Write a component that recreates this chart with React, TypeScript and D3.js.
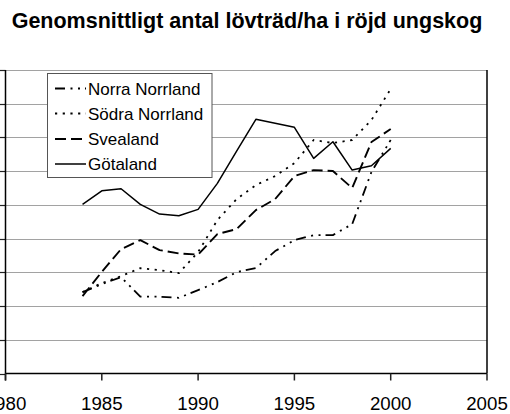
import React from "react";
import * as d3 from "d3";

const years = [1984, 1985, 1986, 1987, 1988, 1989, 1990, 1991, 1992, 1993, 1994, 1995, 1996, 1997, 1998, 1999, 2000];
const norraNorrland = [1206, 1325, 1429, 1139, 1139, 1122, 1236, 1355, 1503, 1562, 1815, 1978, 2052, 2052, 2215, 2987, 3462];
const sodraNorrland = [1206, 1340, 1444, 1562, 1533, 1488, 1800, 2275, 2586, 2794, 2927, 3120, 3462, 3417, 3462, 3758, 4218];
const svealand = [1147, 1507, 1844, 1978, 1829, 1780, 1763, 2067, 2141, 2423, 2586, 2927, 3016, 3002, 2749, 3432, 3625];
const gotaland = [2507, 2709, 2739, 2507, 2364, 2338, 2433, 2819, 3298, 3769, 3709, 3650, 3190, 3436, 3016, 3080, 3338];
const xTicks = [1980, 1985, 1990, 1995, 2000, 2005];
const yTicks = [0, 500, 1000, 1500, 2000, 2500, 3000, 3500, 4000, 4500];
const seriesNames = ["Norra Norrland", "Södra Norrland", "Svealand", "Götaland"];

const title = "Genomsnittligt antal lövträd/ha i röjd ungskog";
const FONT = "'Liberation Sans', Arial, Helvetica, sans-serif";

export default function App() {
  const W = 510, H = 414;
  const x = d3.scaleLinear().domain([1980, 2005]).range([5.5, 487]);
  const y = d3.scaleLinear().domain([0, 4500]).range([373.5, 70]);

  const series = [
    { name: seriesNames[0], values: norraNorrland, dash: "10 5.5 2 5.5 2 5", width: 1.8 },
    { name: seriesNames[1], values: sodraNorrland, dash: "2.2 5.5", width: 1.8 },
    { name: seriesNames[2], values: svealand, dash: "11 5", width: 1.9 },
    { name: seriesNames[3], values: gotaland, dash: "none", width: 1.5 },
  ];

  const line = d3
    .line<number>()
    .x((_, i) => x(years[i]))
    .y((d) => y(d));

  const x0 = x(1980);
  const x1 = x(2005);
  const yb = y(0);

  const legend = { x: 47.5, y: 73.5, w: 164.5, h: 104 };
  const legendRowY = [88.5, 113.5, 139, 164];

  return (
    <svg
      width={W}
      height={H}
      style={{ position: "absolute", left: 0, top: 0, background: "#fff" }}
      fontFamily={FONT}
    >
      <rect x={0} y={0} width={W} height={H} fill="#fff" />
      <text x={247} y={28} textAnchor="middle" fontSize={21.5} fontWeight="bold" fill="#000">
        {title}
      </text>

      {/* gridlines */}
      {yTicks.slice(1).map((t) => (
        <line
          key={"g" + t}
          x1={x0}
          x2={x1}
          y1={Math.round(y(t)) + 0.5}
          y2={Math.round(y(t)) + 0.5}
          stroke="#444"
          strokeWidth={1}
          strokeDasharray="1 1"
        />
      ))}

      {/* y ticks */}
      {yTicks.map((t) => (
        <line
          key={"yt" + t}
          x1={0}
          x2={x0}
          y1={Math.round(y(t)) + 0.5}
          y2={Math.round(y(t)) + 0.5}
          stroke="#222"
          strokeWidth={1.2}
        />
      ))}

      {/* right border */}
      <line x1={x1} x2={x1} y1={y(4500)} y2={yb} stroke="#000" strokeWidth={1.5} />

      {/* axes */}
      <line x1={x0} x2={x0} y1={y(4500)} y2={yb + 7} stroke="#000" strokeWidth={1.5} />
      <line x1={x0} x2={x1} y1={yb} y2={yb} stroke="#000" strokeWidth={1.5} />
      {xTicks.map((t) => (
        <g key={"xt" + t}>
          <line x1={x(t)} x2={x(t)} y1={yb} y2={yb + 7} stroke="#222" strokeWidth={1.5} />
          <text x={x(t)} y={410} textAnchor="middle" fontSize={18.7} fill="#000">
            {t}
          </text>
        </g>
      ))}

      {/* series */}
      {series.map((s) => (
        <path
          key={s.name}
          d={line(s.values) || ""}
          fill="none"
          stroke="#000"
          strokeWidth={s.width}
          strokeDasharray={s.dash}
          strokeLinejoin="round"
        />
      ))}

      {/* legend */}
      <rect
        x={legend.x}
        y={legend.y}
        width={legend.w}
        height={legend.h}
        fill="#fff"
        stroke="#555"
        strokeWidth={1}
      />
      {series.map((s, i) => (
        <g key={"lg" + s.name}>
          <line
            x1={55}
            x2={86}
            y1={legendRowY[i]}
            y2={legendRowY[i]}
            stroke="#000"
            strokeWidth={s.width}
            strokeDasharray={s.dash}
          />
          <text x={88} y={legendRowY[i] + 6} fontSize={17} fill="#000">
            {s.name}
          </text>
        </g>
      ))}
    </svg>
  );
}
